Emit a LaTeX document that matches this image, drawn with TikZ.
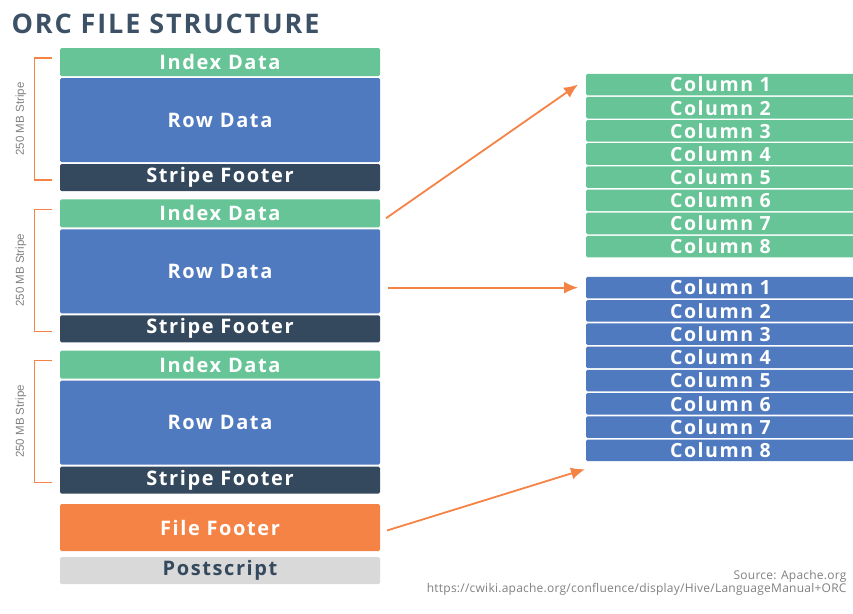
\documentclass[tikz,border=0pt]{standalone}
\usepackage{fontspec}
\setmainfont{Open Sans}
\newfontfamily\condfont{Liberation Sans}
\newfontfamily\boxfont{Open Sans}[LetterSpace=8]
\newfontfamily\titlefont{Open Sans}[LetterSpace=7]
\newfontfamily\notefont{Open Sans}[LetterSpace=2]
\usepackage{tikz}
\usetikzlibrary{calc, arrows.meta, positioning}
\definecolor{orcgreen}{HTML}{66C497}
\definecolor{orcblue}{HTML}{507ABF}
\definecolor{orcdark}{HTML}{34495E}
\definecolor{orcorange}{HTML}{F58345}
\definecolor{orcgray}{HTML}{D9D9D9}
\definecolor{orctitle}{HTML}{3D5166}
\tikzstyle{blk}=[rectangle, rounded corners=1.5pt, inner sep=0pt, outer sep=0pt,
minimum width=320pt, text=white, font=\boxfont\bfseries\fontsize{20}{20}\selectfont]
\tikzstyle{idx}=[blk, fill=orcgreen, minimum height=28pt]
\tikzstyle{rowd}=[blk, fill=orcblue, minimum height=84pt]
\tikzstyle{sfoot}=[blk, fill=orcdark, minimum height=27pt]
\tikzstyle{col}=[rectangle, rounded corners=1.5pt, inner sep=0pt, outer sep=0pt,
minimum width=269pt, minimum height=21.6pt, text=white,
font=\boxfont\bfseries\fontsize{19.5}{19.5}\selectfont]
\tikzstyle{bracket}=[draw=orcorange, line width=1.3pt]
\tikzstyle{link}=[draw=orcorange, line width=1.8pt, -{Latex[length=14pt,width=12pt]}]

\begin{document}
\begin{tikzpicture}[x=1pt,y=-1pt]
      \useasboundingbox (0,0) rectangle (853,613);
      \node[anchor=west, text=orctitle, font=\titlefont\bfseries\fontsize{27}{27}\selectfont] (title) at (8,24) {ORC FILE STRUCTURE};
      % stripes
      \foreach \s in {1,2,3} {
        \pgfmathsetmacro{\off}{(\s-1)*151.25}
        \node[idx] (idx\s) at (220,62+\off) {Index Data};
        \node[rowd] (row\s) at (220,120+\off) {Row Data};
        \node[sfoot] (sf\s) at (220,177.5+\off) {Stripe Footer};
        \draw[bracket] (52,58+\off) -- (34.5,58+\off) -- (34.5,180+\off) -- (52,180+\off);
        \node[rotate=90, text=gray, font=\condfont\fontsize{11.5}{11.5}\selectfont] (lbl\s) at (21,119+\off) {250 MB Stripe};
      }
      \node[blk, fill=orcorange, minimum height=47pt] (ff) at (220,527.5) {File Footer};
      \node[blk, fill=orcgray, minimum height=27pt, text=orcdark] (ps) at (220,570.5) {Postscript};
      % columns
      \foreach \i in {1,...,8} {
        \node[col, fill=orcgreen] (g\i) at (720.5,61.4+\i*23.15) {Column \i};
        \node[col, fill=orcblue] (b\i) at (720.5,264.4+\i*23.25) {Column \i};
      }
      \draw[link] ([xshift=6pt,yshift=-5pt]idx2.east) -- ([xshift=-8pt]g1.west);
      \draw[link] ([xshift=8pt]row2.east |- b1.west) -- ([xshift=-8pt]b1.west);
      \draw[link] ([xshift=7pt,yshift=-3pt]ff.east) -- ([xshift=-1pt,yshift=-8pt]b8.south west);
      \node[anchor=east, text=gray, font=\notefont\fontsize{12}{12}\selectfont] (src) at (850,576) {Source: Apache.org};
      \node[anchor=east, text=gray, font=\notefont\fontsize{12}{12}\selectfont] (url) at (850,589) {https://cwiki.apache.org/confluence/display/Hive/LanguageManual+ORC};
\end{tikzpicture}
\end{document}
